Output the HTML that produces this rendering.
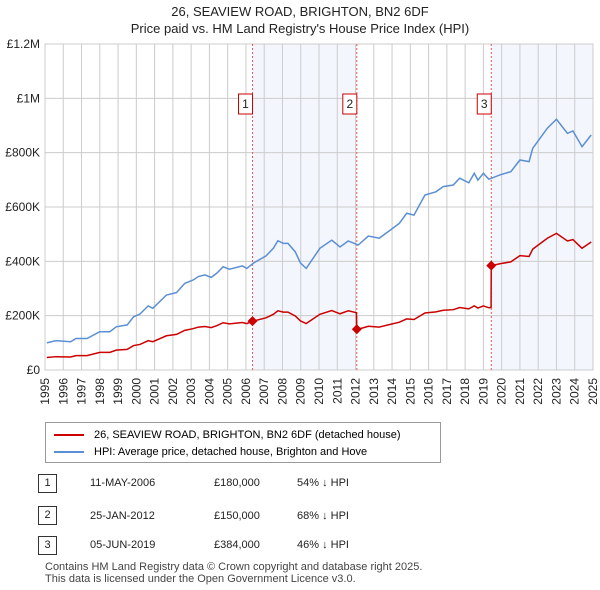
<!DOCTYPE html>
<html><head><meta charset="utf-8"><style>
body{margin:0;background:#fff;font-family:"Liberation Sans","DejaVu Sans",sans-serif;}
#wrap{position:relative;width:600px;height:590px;overflow:hidden;}
.t{position:absolute;white-space:nowrap;color:#222;}
</style></head><body>
<div id="wrap">
<div class="t" style="left:0;width:600px;text-align:center;top:4px;font-size:13px;">26, SEAVIEW ROAD, BRIGHTON, BN2 6DF</div>
<div class="t" style="left:0;width:600px;text-align:center;top:21px;font-size:13px;">Price paid vs. HM Land Registry's House Price Index (HPI)</div>
<svg id="chart" width="600" height="420" style="position:absolute;left:0;top:0;font-family:'Liberation Sans','DejaVu Sans',sans-serif;"></svg>
<div style="position:absolute;left:45px;top:422px;width:394px;height:39px;border:1px solid #999;">
 <div style="position:absolute;left:8px;top:6px;font-size:11px;"><span style="display:inline-block;width:30px;height:2px;background:#cc0000;vertical-align:middle;margin-right:10px;"></span>26, SEAVIEW ROAD, BRIGHTON, BN2 6DF (detached house)</div>
 <div style="position:absolute;left:8px;top:23px;font-size:11px;"><span style="display:inline-block;width:30px;height:2px;background:#5b8fd4;vertical-align:middle;margin-right:10px;"></span>HPI: Average price, detached house, Brighton and Hove</div>
</div>
<div style="position:absolute;left:0;top:470px;width:600px;font-size:11px;">
 <div>
  <div class="t" style="left:38px;top:4px;width:17px;height:17px;border:1px solid #333;text-align:center;line-height:17px;">1</div>
  <div class="t" style="left:90px;top:7px;">11-MAY-2006</div><div class="t" style="left:214px;top:7px;">£180,000</div><div class="t" style="left:297px;top:7px;">54% ↓ HPI</div>
 </div>
 <div>
  <div class="t" style="left:38px;top:36px;width:17px;height:17px;border:1px solid #333;text-align:center;line-height:17px;">2</div>
  <div class="t" style="left:90px;top:40px;">25-JAN-2012</div><div class="t" style="left:214px;top:40px;">£150,000</div><div class="t" style="left:297px;top:40px;">68% ↓ HPI</div>
 </div>
 <div>
  <div class="t" style="left:38px;top:66px;width:17px;height:17px;border:1px solid #333;text-align:center;line-height:17px;">3</div>
  <div class="t" style="left:90px;top:69px;">05-JUN-2019</div><div class="t" style="left:214px;top:69px;">£384,000</div><div class="t" style="left:297px;top:69px;">46% ↓ HPI</div>
 </div>
</div>
<div class="t" style="left:45px;top:561px;font-size:11px;color:#444;line-height:12px;">Contains HM Land Registry data © Crown copyright and database right 2025.<br>This data is licensed under the Open Government Licence v3.0.</div>
</div>
<script>
const yTicks=[0,200000,400000,600000,800000,1000000,1200000];
const yTickLabels=["£0","£200K","£400K","£600K","£800K","£1M","£1.2M"];
const xYears=[1995,1996,1997,1998,1999,2000,2001,2002,2003,2004,2005,2006,2007,2008,2009,2010,2011,2012,2013,2014,2015,2016,2017,2018,2019,2020,2021,2022,2023,2024,2025];
const hpiYears=[1995.1,1995.6,1996.4,1996.7,1997.3,1998.0,1998.55,1998.9,1999.5,1999.85,2000.2,2000.65,2000.9,2001.65,2002.2,2002.65,2003.1,2003.4,2003.75,2004.1,2004.4,2004.75,2005.1,2005.8,2006.05,2006.4,2007.1,2007.5,2007.75,2008.05,2008.3,2008.7,2008.95,2009.0,2009.3,2010.05,2010.7,2011.15,2011.6,2012.15,2012.7,2013.3,2013.9,2014.4,2014.8,2015.2,2015.8,2016.4,2016.8,2017.35,2017.7,2018.2,2018.5,2018.7,2019.0,2019.3,2019.9,2020.5,2021.0,2021.5,2021.7,2022.5,2023.0,2023.6,2023.9,2024.4,2024.9];
const hpiValues=[100,108,104,116,116,141,141,159,166,196,206,236,227,276,285,319,331,344,350,341,356,380,371,383,374,393,420,448,476,466,466,435,399,393,374,448,478,453,475,460,493,485,515,540,577,570,644,656,675,681,706,689,724,699,724,702,718,730,773,767,816,890,923,871,880,822,865];
const priceYears=[1995.1,1995.6,1996.4,1996.7,1997.3,1998.0,1998.55,1998.9,1999.5,1999.85,2000.2,2000.65,2000.9,2001.65,2002.2,2002.65,2003.1,2003.4,2003.75,2004.1,2004.4,2004.75,2005.1,2005.8,2006.05,2006.4,2007.1,2007.5,2007.75,2008.05,2008.3,2008.7,2008.95,2009.0,2009.3,2010.05,2010.7,2011.15,2011.6,2012.05,2012.07,2012.15,2012.7,2013.3,2013.9,2014.4,2014.8,2015.2,2015.8,2016.4,2016.8,2017.35,2017.7,2018.2,2018.5,2018.7,2019.0,2019.3,2019.42,2019.43,2019.9,2020.5,2021.0,2021.5,2021.7,2022.5,2023.0,2023.6,2023.9,2024.4,2024.9];
const priceValues=[46,49,48,53,53,65,65,73,76,90,94,108,104,126,131,146,152,158,160,156,163,174,170,175,171,180,192,205,218,213,213,199,183,180,171,205,219,207,218,211,150,150,161,158,168,176,188,186,210,214,220,222,230,225,236,228,236,229,230,384,391,398,421,418,445,485,503,475,480,448,471];
const saleYears=[2006.36,2012.07,2019.43];
const salePrices=[180000,150000,384000];
const saleLabels=["1","2","3"];

const X0=45,X1=593,Y0=370,Y1=44;
const xs=y=>X0+(y-1995)/30*(X1-X0);
const ys=v=>Y0-v/1200000*(Y0-Y1);
const svg=document.getElementById('chart');
const NS='http://www.w3.org/2000/svg';
function mk(tag,attrs,parent){const e=document.createElementNS(NS,tag);for(const k in attrs)e.setAttribute(k,attrs[k]);(parent||svg).appendChild(e);return e;}
[[saleYears[0],saleYears[1]],[saleYears[2],2025]].forEach((r,i)=>{
 const e=mk('rect',{x:xs(r[0]),y:Y1,width:xs(r[1])-xs(r[0]),height:Y0-Y1,fill:'#f3f6fd'});
 
 
});
xYears.forEach(y=>{
 const l=mk('line',{x1:xs(y),x2:xs(y),y1:Y1,y2:Y0,stroke:'#cccccc','stroke-width':1});
 
 
 const t=mk('text',{x:0,y:0,transform:`translate(${xs(y)+4},${Y0+8}) rotate(-90)`,'text-anchor':'end','font-size':12,fill:'#222'});
 t.textContent=y;
 
 
});
yTicks.forEach((v,i)=>{
 const l=mk('line',{x1:X0,x2:X1,y1:ys(v),y2:ys(v),stroke:'#cccccc','stroke-width':1});
 
 
 const t=mk('text',{x:40,y:ys(v)+4,'text-anchor':'end','font-size':12,fill:'#222'});
 t.textContent=yTickLabels[i];
 
 
});
const bd=mk('rect',{x:X0,y:Y1,width:X1-X0,height:Y0-Y1,fill:'none',stroke:'#cccccc'});


saleYears.forEach((y,i)=>{
 const l=mk('line',{x1:xs(y),x2:xs(y),y1:Y1,y2:Y0,stroke:'#ee5555','stroke-width':1,'stroke-dasharray':'2,2'});
 
 
 const g=mk('g',{});
 
 
 mk('rect',{x:xs(y)-14,y:94,width:14,height:20,fill:'#fff',stroke:'#cc0000'},g);
 const t=mk('text',{x:xs(y)-7,y:108,'text-anchor':'middle','font-size':12,fill:'#222'},g);
 t.textContent=saleLabels[i];
});
const hp=mk('polyline',{points:hpiYears.map((y,i)=>xs(y)+','+ys(hpiValues[i]*1000)).join(' '),fill:'none',stroke:'#5b8fd4','stroke-width':1.5});


const pp=mk('polyline',{points:priceYears.map((y,i)=>xs(y)+','+ys(priceValues[i]*1000)).join(' '),fill:'none',stroke:'#cc0000','stroke-width':1.5});


saleYears.forEach((y,i)=>{
 const x=xs(y),yy=ys(salePrices[i]);
 const d=mk('path',{d:`M${x},${yy-5}L${x+5},${yy}L${x},${yy+5}L${x-5},${yy}Z`,fill:'#cc0000'});
 
 
});
</script>
</body></html>
